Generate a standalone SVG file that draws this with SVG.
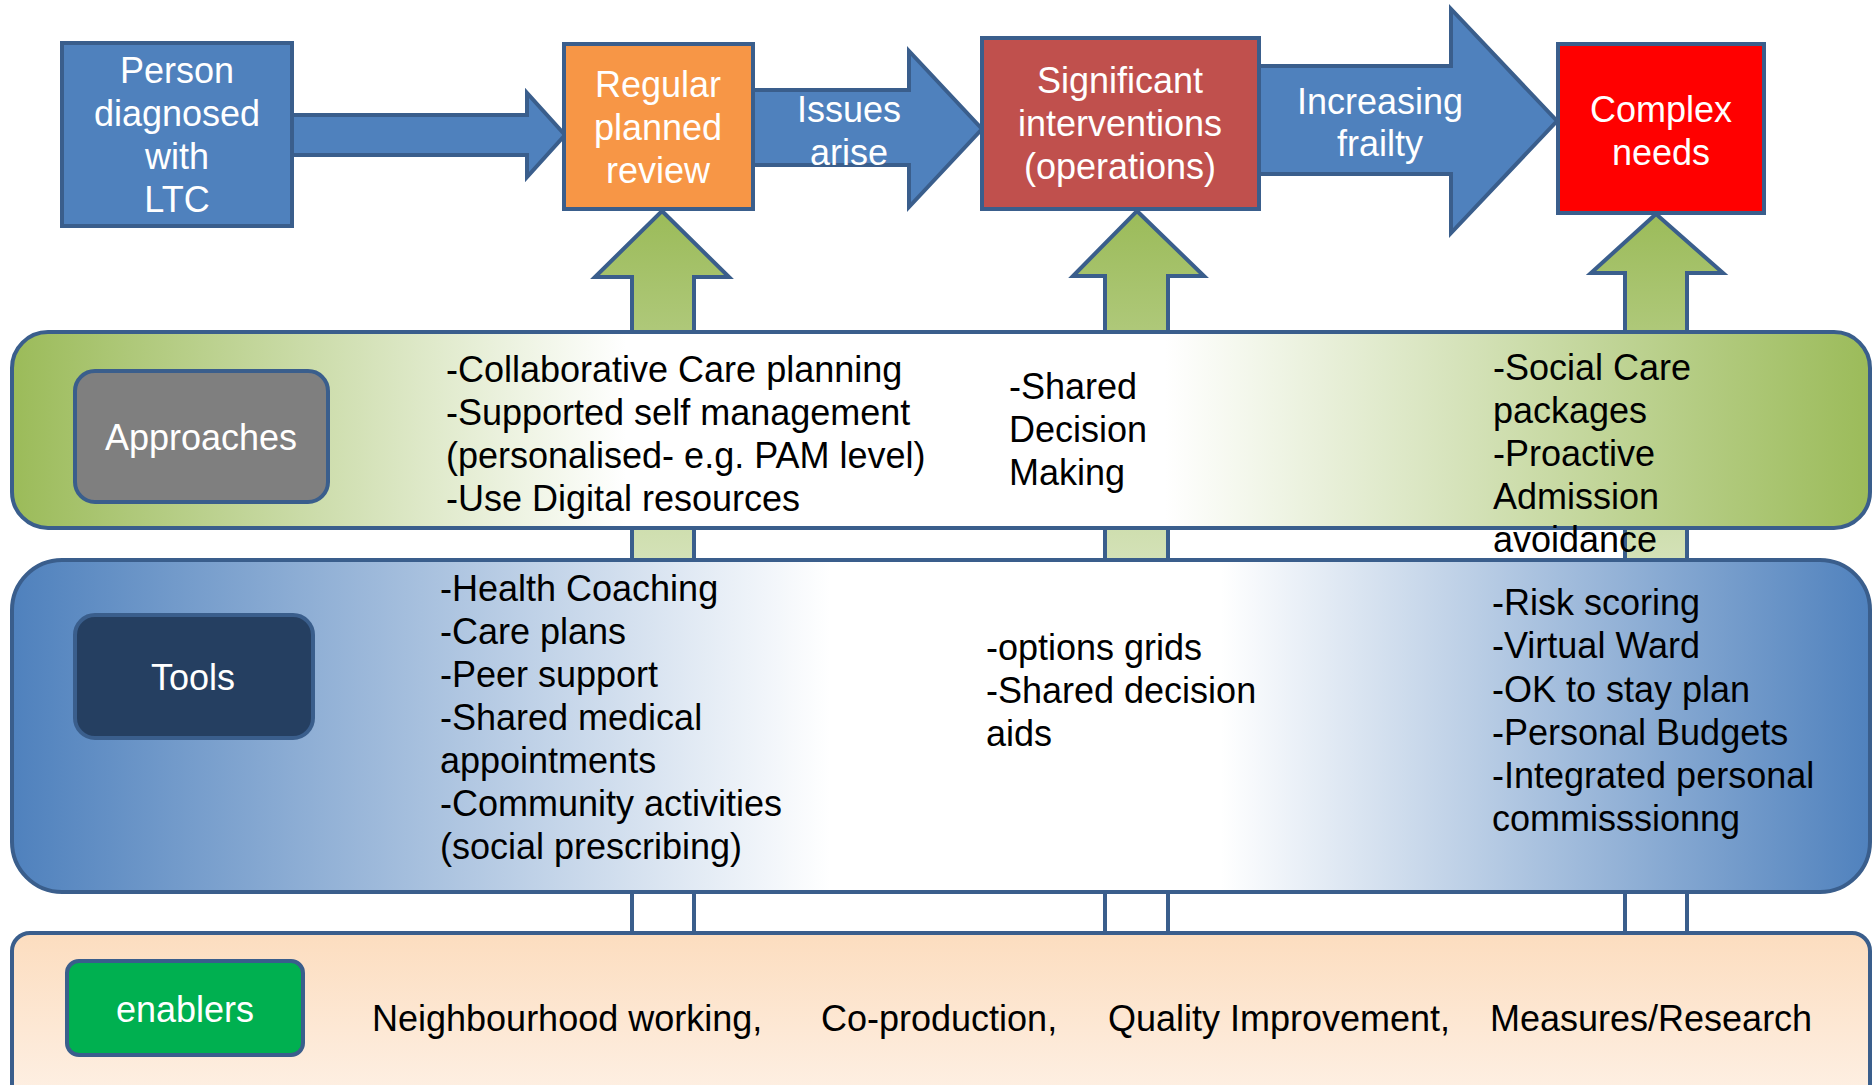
<svg xmlns="http://www.w3.org/2000/svg" width="1874" height="1085" viewBox="0 0 1874 1085">
<defs>
<linearGradient id="gUp" gradientUnits="userSpaceOnUse" x1="0" y1="211" x2="0" y2="933">
<stop offset="0" stop-color="#9BBB59"/><stop offset="0.85" stop-color="#FFFFFF"/><stop offset="1" stop-color="#FFFFFF"/>
</linearGradient>
<linearGradient id="gApp" gradientUnits="userSpaceOnUse" x1="12" y1="0" x2="1872" y2="0">
<stop offset="0" stop-color="#9BBB59"/><stop offset="0.33" stop-color="#FFFFFF"/><stop offset="0.62" stop-color="#FFFFFF"/><stop offset="1" stop-color="#9BBB59"/>
</linearGradient>
<linearGradient id="gTools" gradientUnits="userSpaceOnUse" x1="12" y1="0" x2="1872" y2="0">
<stop offset="0" stop-color="#4F81BD"/><stop offset="0.44" stop-color="#FFFFFF"/><stop offset="0.65" stop-color="#FFFFFF"/><stop offset="1" stop-color="#4F81BD"/>
</linearGradient>
<linearGradient id="gEn" x1="0" y1="0" x2="0" y2="1">
<stop offset="0" stop-color="#FCDDBF"/><stop offset="1" stop-color="#FEF4EC"/>
</linearGradient>
<style>
.st{stroke:#3A5E8C;stroke-width:4;stroke-linejoin:miter}
.blue{fill:#4F81BD}
.up{fill:url(#gUp)}
.t{font-family:"Liberation Sans",Arial,sans-serif;font-size:36px}
.w{fill:#FFFFFF}
.k{fill:#000000}
.c{text-anchor:middle}
</style>
</defs>

<g id="connectors">
<path class="st up" d="M662,211 L729,277 L694,277 L694,933 L632,933 L632,277 L595,277 Z"/>
<path class="st up" d="M1137,211 L1204,276 L1168,276 L1168,933 L1105,933 L1105,276 L1073,276 Z"/>
<path class="st up" d="M1656,214 L1723,273 L1687,273 L1687,933 L1625,933 L1625,273 L1591,273 Z"/>
<path class="st blue" d="M290,115 L527,115 L527,93 L565,135 L527,177 L527,155 L290,155 Z"/>
<path class="st blue" d="M751,90 L909,90 L909,51 L982,129 L909,207 L909,165 L751,165 Z"/>
<path class="st blue" d="M1257,66 L1451,66 L1451,9 L1557,121 L1451,233 L1451,174 L1257,174 Z"/>
<text class="t w c" x="849" y="122">Issues</text>
<text class="t w c" x="849" y="165">arise</text>
<text class="t w c" x="1380" y="114">Increasing</text>
<text class="t w c" x="1380" y="156">frailty</text>
</g>

<g id="person">
<rect class="st" x="62" y="43" width="230" height="183" fill="#4F81BD"/>
<text class="t w c" x="177" y="83">Person</text>
<text class="t w c" x="177" y="126">diagnosed</text>
<text class="t w c" x="177" y="169">with</text>
<text class="t w c" x="177" y="212">LTC</text>
</g>

<g id="regular-review">
<rect class="st" x="564" y="44" width="189" height="165" fill="#F79646"/>
<text class="t w c" x="658" y="97">Regular</text>
<text class="t w c" x="658" y="140">planned</text>
<text class="t w c" x="658" y="183">review</text>
</g>

<g id="significant">
<rect class="st" x="982" y="38" width="277" height="171" fill="#C0504D"/>
<text class="t w c" x="1120" y="93">Significant</text>
<text class="t w c" x="1120" y="136">interventions</text>
<text class="t w c" x="1120" y="179">(operations)</text>
</g>

<g id="complex">
<rect class="st" x="1558" y="44" width="206" height="169" fill="#FF0000"/>
<text class="t w c" x="1661" y="122">Complex</text>
<text class="t w c" x="1661" y="165">needs</text>
</g>

<g id="approaches-band">
<rect class="st" x="12" y="332" width="1858" height="196" rx="36" ry="36" fill="url(#gApp)"/>
<text class="t k" x="446" y="382">-Collaborative Care planning</text>
<text class="t k" x="446" y="425">-Supported self management</text>
<text class="t k" x="446" y="468">(personalised- e.g. PAM level)</text>
<text class="t k" x="446" y="511">-Use Digital resources</text>
<text class="t k" x="1009" y="399">-Shared</text>
<text class="t k" x="1009" y="442">Decision</text>
<text class="t k" x="1009" y="485">Making</text>
</g>

<g id="approaches">
<rect class="st" x="75" y="371" width="253" height="131" rx="20" ry="20" fill="#7F7F7F"/>
<text class="t w c" x="201" y="450">Approaches</text>
</g>

<g id="tools-band">
<rect class="st" x="12" y="560" width="1858" height="332" rx="50" ry="50" fill="url(#gTools)"/>
<text class="t k" x="440" y="601">-Health Coaching</text>
<text class="t k" x="440" y="644">-Care plans</text>
<text class="t k" x="440" y="687">-Peer support</text>
<text class="t k" x="440" y="730">-Shared medical</text>
<text class="t k" x="440" y="773">appointments</text>
<text class="t k" x="440" y="816">-Community activities</text>
<text class="t k" x="440" y="859">(social prescribing)</text>
<text class="t k" x="986" y="660">-options grids</text>
<text class="t k" x="986" y="703">-Shared decision</text>
<text class="t k" x="986" y="746">aids</text>
<text class="t k" x="1492" y="615">-Risk scoring</text>
<text class="t k" x="1492" y="658">-Virtual Ward</text>
<text class="t k" x="1492" y="702">-OK to stay plan</text>
<text class="t k" x="1492" y="745">-Personal Budgets</text>
<text class="t k" x="1492" y="788">-Integrated personal</text>
<text class="t k" x="1492" y="831">commisssionng</text>
</g>

<g id="approaches-right-text">
<text class="t k" x="1493" y="380">-Social Care</text>
<text class="t k" x="1493" y="423">packages</text>
<text class="t k" x="1493" y="466">-Proactive</text>
<text class="t k" x="1493" y="509">Admission</text>
<text class="t k" x="1493" y="552">avoidance</text>
</g>

<g id="tools">
<rect class="st" x="75" y="615" width="238" height="123" rx="20" ry="20" fill="#253F61"/>
<text class="t w c" x="193" y="690">Tools</text>
</g>

<g id="enablers-band">
<rect class="st" x="12" y="933" width="1858" height="200" rx="18" ry="18" fill="url(#gEn)"/>
<text class="t k" x="372" y="1031">Neighbourhood working,</text>
<text class="t k" x="821" y="1031">Co-production,</text>
<text class="t k" x="1108" y="1031">Quality Improvement,</text>
<text class="t k" x="1490" y="1031">Measures/Research</text>
</g>

<g id="enablers">
<rect class="st" x="67" y="961" width="236" height="94" rx="12" ry="12" fill="#00B050"/>
<text class="t w c" x="185" y="1022">enablers</text>
</g>
</svg>
